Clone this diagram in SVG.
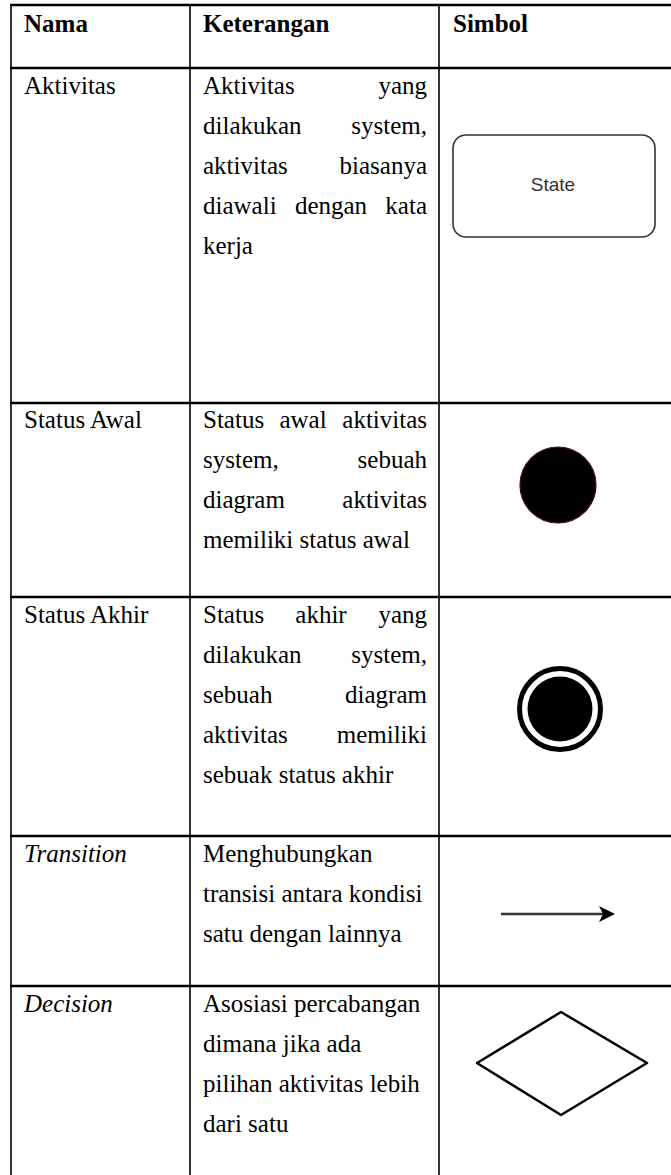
<svg xmlns="http://www.w3.org/2000/svg" width="671" height="1175" viewBox="0 0 671 1175">
<style>
.t{font-size:25px;fill:#000}
.b{font-weight:bold}
.i{font-style:italic}
.e{text-anchor:end}
.m{text-anchor:middle}
.h{stroke:#000;stroke-width:2.5}
.v{stroke:#000;stroke-width:1.6}
</style>
<rect width="671" height="1175" fill="#fff"/>
<g id="grid">
<line class="h" x1="10" y1="5" x2="671" y2="5"/>
<line class="h" x1="10" y1="68" x2="671" y2="68"/>
<line class="h" x1="10" y1="403" x2="671" y2="403"/>
<line class="h" x1="10" y1="597" x2="671" y2="597"/>
<line class="h" x1="10" y1="836" x2="671" y2="836"/>
<line class="h" x1="10" y1="986" x2="671" y2="986"/>
<line class="v" x1="11" y1="4" x2="11" y2="1175"/>
<line class="v" x1="190" y1="4" x2="190" y2="1175"/>
<line class="v" x1="439" y1="4" x2="439" y2="1175"/>
</g>
<g font-family="Liberation Serif, Tinos, DejaVu Serif, serif">
<g id="header">
<text class="t b" x="24" y="32">Nama</text>
<text class="t b" x="203" y="32">Keterangan</text>
<text class="t b" x="453" y="32">Simbol</text>
</g>
<g id="row-aktivitas">
<text class="t" x="24" y="94">Aktivitas</text>
<text class="t" x="203" y="94">Aktivitas</text><text class="t e" x="427" y="94">yang</text>
<text class="t" x="203" y="134">dilakukan</text><text class="t e" x="427" y="134">system,</text>
<text class="t" x="203" y="174">aktivitas</text><text class="t e" x="427" y="174">biasanya</text>
<text class="t" x="203" y="214">diawali</text><text class="t m" x="331" y="214">dengan</text><text class="t e" x="427" y="214">kata</text>
<text class="t" x="203" y="254">kerja</text>
</g>
<g id="row-status-awal">
<text class="t" x="24" y="428">Status Awal</text>
<text class="t" x="203" y="428">Status</text><text class="t m" x="303" y="428">awal</text><text class="t e" x="427" y="428">aktivitas</text>
<text class="t" x="203" y="468">system,</text><text class="t e" x="427" y="468">sebuah</text>
<text class="t" x="203" y="508">diagram</text><text class="t e" x="427" y="508">aktivitas</text>
<text class="t" x="203" y="548">memiliki status awal</text>
</g>
<g id="row-status-akhir">
<text class="t" x="24" y="623">Status Akhir</text>
<text class="t" x="203" y="623">Status</text><text class="t m" x="321" y="623">akhir</text><text class="t e" x="427" y="623">yang</text>
<text class="t" x="203" y="663">dilakukan</text><text class="t e" x="427" y="663">system,</text>
<text class="t" x="203" y="703">sebuah</text><text class="t e" x="427" y="703">diagram</text>
<text class="t" x="203" y="743">aktivitas</text><text class="t e" x="427" y="743">memiliki</text>
<text class="t" x="203" y="783">sebuak status akhir</text>
</g>
<g id="row-transition">
<text class="t i" x="24" y="862">Transition</text>
<text class="t" x="203" y="862">Menghubungkan</text>
<text class="t" x="203" y="902">transisi antara kondisi</text>
<text class="t" x="203" y="942">satu dengan lainnya</text>
</g>
<g id="row-decision">
<text class="t i" x="24" y="1012">Decision</text>
<text class="t" x="203" y="1012">Asosiasi percabangan</text>
<text class="t" x="203" y="1052">dimana jika ada</text>
<text class="t" x="203" y="1092">pilihan aktivitas lebih</text>
<text class="t" x="203" y="1132">dari satu</text>
</g>
</g>
<g id="symbol-state">
<rect x="453" y="135" width="202" height="102" rx="13" fill="#fff" stroke="#333" stroke-width="1.6"/>
<text x="553" y="191" text-anchor="middle" font-family="Liberation Sans, Arial, sans-serif" font-size="19" fill="#333">State</text>
</g>
<g id="symbol-initial">
<circle cx="558" cy="485" r="38" fill="#000" stroke="#4a0a0a" stroke-width="1.2"/>
</g>
<g id="symbol-final">
<circle cx="560" cy="709" r="40.5" fill="#fff" stroke="#000" stroke-width="5"/>
<circle cx="560" cy="709" r="32.5" fill="#000"/>
</g>
<g id="symbol-transition">
<line x1="501" y1="914" x2="603" y2="914" stroke="#333" stroke-width="2.5"/>
<polygon points="615,914 599,906 603,914 599,922" fill="#000"/>
</g>
<g id="symbol-decision">
<polygon points="561,1012 647,1063 561,1115 477,1063" fill="#fff" stroke="#000" stroke-width="2.5" stroke-linejoin="round"/>
</g>
</svg>
